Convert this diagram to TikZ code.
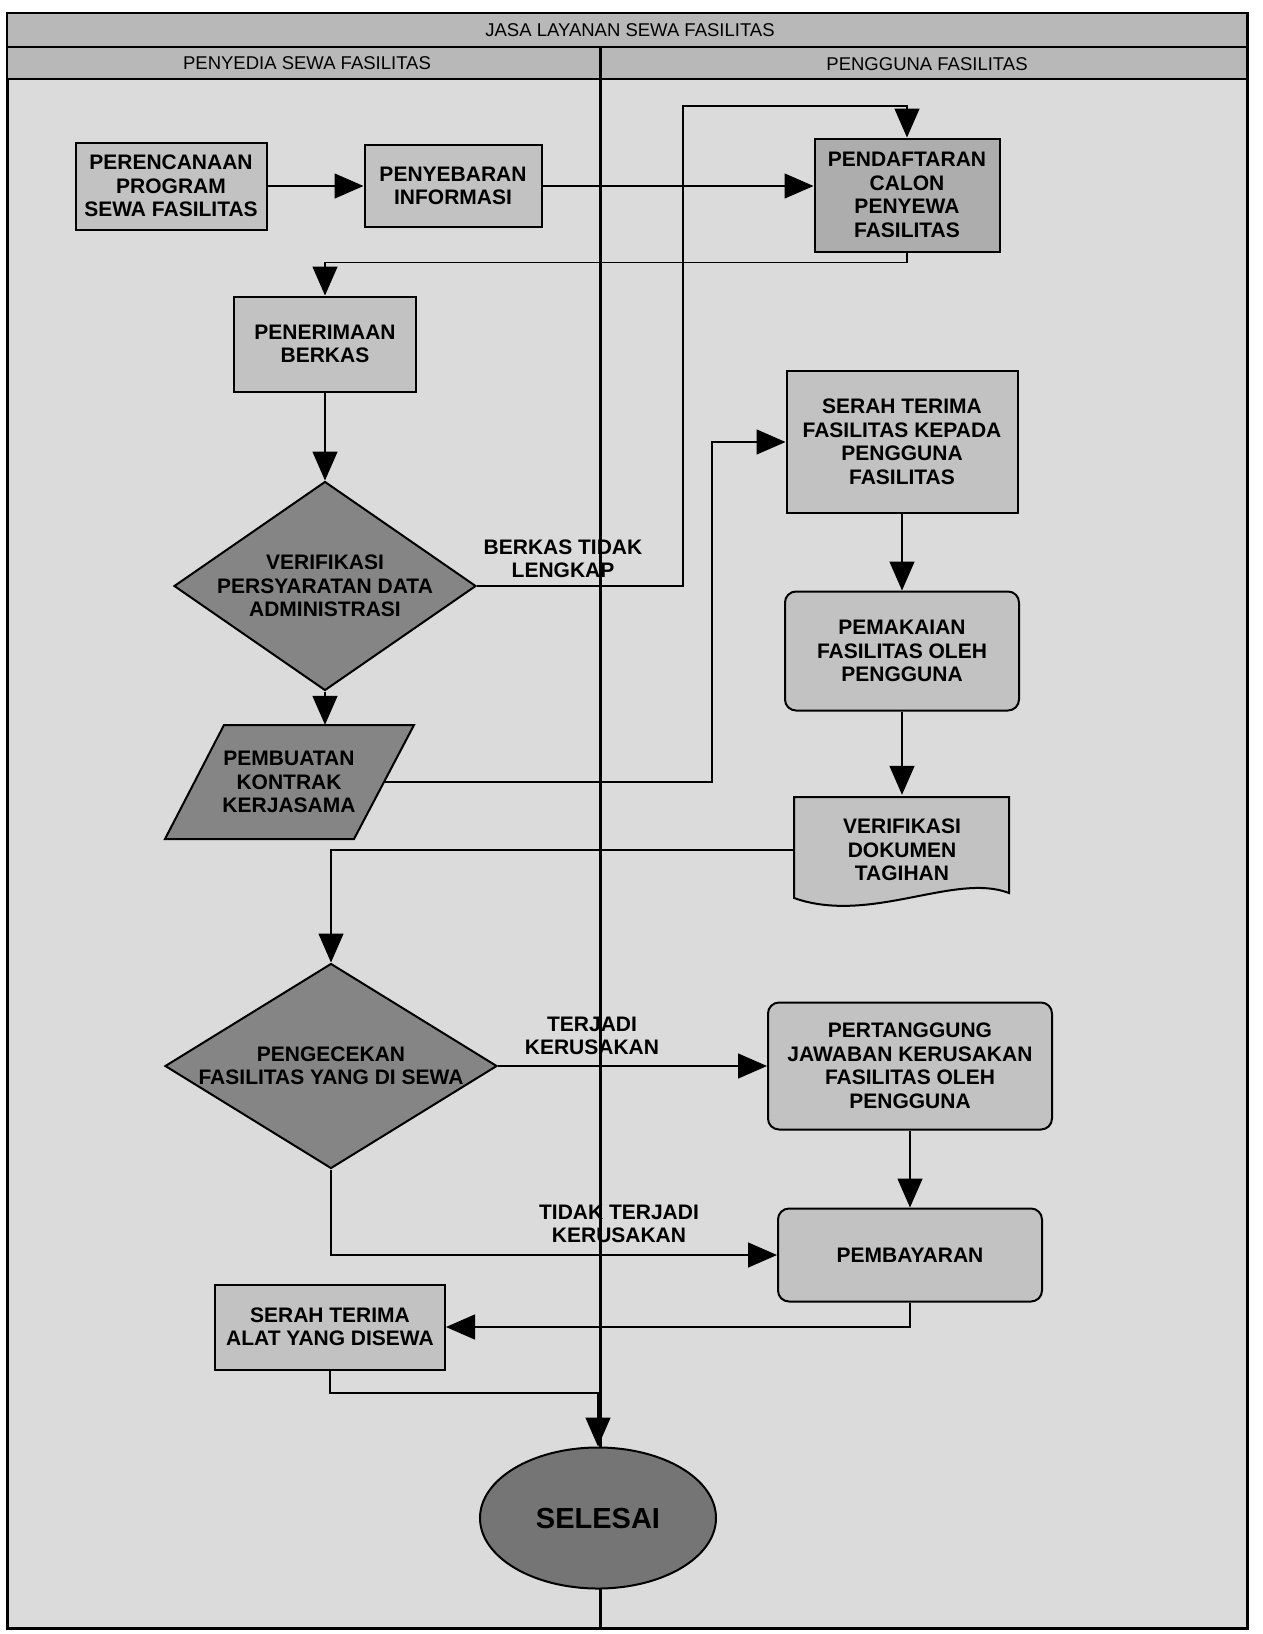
\documentclass[tikz,border=0pt]{standalone}
\usepackage{fontspec}
\setmainfont{Liberation Sans}
\usetikzlibrary{shapes.geometric,arrows.meta,calc}
\definecolor{bgc}{gray}{0.86}
\definecolor{hdrc}{gray}{0.72}
\definecolor{boxc}{gray}{0.76}
\definecolor{boxd}{gray}{0.68}
\definecolor{darkc}{gray}{0.52}
\definecolor{ellc}{gray}{0.46}
\newcommand\boxfont{\fontsize{21}{23.5}\selectfont\bfseries}
\newcommand\hdrfont{\fontsize{18.5}{21}\selectfont}
\tikzset{
  frame/.style={draw, line width=3pt, fill=bgc},
  hdrbar/.style={draw, line width=2.5pt, fill=hdrc},
  hdrtext/.style={font=\hdrfont, inner sep=0pt},
  divider/.style={line width=3pt},
  box/.style={draw, line width=2pt, fill=boxc, font=\boxfont, align=center, inner sep=2pt},
  rbox/.style={box, rounded corners=11pt},
  dia/.style={draw, line width=2pt, fill=darkc, diamond, inner sep=0pt},
  shapeline/.style={draw, line width=2pt},
  inlbl/.style={font=\boxfont, align=center},
  lbl/.style={font=\boxfont, align=center, inner sep=0pt},
  arr/.style={line width=1.4pt, -{Triangle[length=29pt,width=25pt]}},
}
\begin{document}
\begin{tikzpicture}[x=1pt,y=-1pt]
\useasboundingbox (0,0) rectangle (1262,1634);
\fill[white] (0,0) rectangle (1262,1634);
% frame and lanes
\draw[frame] (7,13) rectangle (1247,1628);
\draw[hdrbar] (7,13) rectangle (1247,47);
\draw[hdrbar] (7,47) rectangle (1247,79);
\node[hdrtext] (title) at (630,30) {JASA LAYANAN SEWA FASILITAS};
\node[hdrtext] (lane1) at (307,63) {PENYEDIA SEWA FASILITAS};
\node[hdrtext] (lane2) at (927,64) {PENGGUNA FASILITAS};
\draw[divider] (600,47) -- (600,1628);

% nodes
\node[box, minimum width=191, minimum height=87] (n1) at (171,186) {PERENCANAAN\\PROGRAM\\SEWA FASILITAS};
\node[box, minimum width=177, minimum height=82] (n2) at (453,186) {PENYEBARAN\\INFORMASI};
\node[box, fill=boxd, minimum width=185, minimum height=113] (n3) at (907,195) {PENDAFTARAN\\CALON\\PENYEWA\\FASILITAS};
\node[box, minimum width=182, minimum height=95] (n4) at (325,344) {PENERIMAAN\\BERKAS};
\node[dia, minimum width=302, minimum height=209,
  label={[inlbl]center:VERIFIKASI\\PERSYARATAN DATA\\ADMINISTRASI}] (d1) at (325,586) {};
\filldraw[shapeline, fill=darkc] (224,725) -- (414,725) -- (354,839) -- (165,839) -- cycle;
\node[lbl, minimum width=190, minimum height=114] (p1) at (289,782) {PEMBUATAN\\KONTRAK\\KERJASAMA};
\node[box, minimum width=231, minimum height=142] (n5) at (902,442) {SERAH TERIMA\\FASILITAS KEPADA\\PENGGUNA\\FASILITAS};
\node[rbox, minimum width=234, minimum height=119] (n6) at (902,651) {PEMAKAIAN\\FASILITAS OLEH\\PENGGUNA};
\filldraw[shapeline, fill=boxc] (794,797) -- (1009,797) -- (1009,893)
  .. controls (955,872) and (870,925) .. (794,898) -- cycle;
\node[lbl, minimum width=215, minimum height=110] (n7) at (902,850) {VERIFIKASI\\DOKUMEN\\TAGIHAN};
\node[dia, minimum width=332, minimum height=205,
  label={[inlbl]center:PENGECEKAN\\FASILITAS YANG DI SEWA}] (d2) at (331,1066) {};
\node[rbox, minimum width=284, minimum height=127] (n8) at (910,1066) {PERTANGGUNG\\JAWABAN KERUSAKAN\\FASILITAS OLEH\\PENGGUNA};
\node[rbox, minimum width=264, minimum height=93] (n9) at (910,1255) {PEMBAYARAN};
\node[box, minimum width=230, minimum height=85] (n10) at (330,1327) {SERAH TERIMA\\ALAT YANG DISEWA};
\node[draw, line width=2pt, fill=ellc, ellipse, minimum width=236, minimum height=141,
  font=\fontsize{29}{32}\selectfont\bfseries] (end) at (598,1518) {SELESAI};

% labels
\node[lbl] (l1) at (563,559) {BERKAS TIDAK\\LENGKAP};
\node[lbl] (l2) at (592,1036) {TERJADI\\KERUSAKAN};
\node[lbl] (l3) at (619,1224) {TIDAK TERJADI\\KERUSAKAN};

% helper coordinates
\coordinate (k1) at (683,106);
\coordinate (k2) at (712,442);
\coordinate (k3) at (598,1393);

% connectors
\draw[arr] (n1.east) -- (n1.east -| n2.west);
\draw[arr] (n2.east) -- (n2.east -| n3.west);
\draw[arr] (n3.south) -- ++(0,10) -| (n4.north);
\draw[arr] (n4.south) -- (d1.north);
\draw[arr] (d1.east) -| (k1) -| (n3.north);
\draw[arr] (d1.south) -- (d1.south |- p1.north);
\draw[arr] (p1.east) -| (k2) -- (n5.west);
\draw[arr] (n5.south) -- (n6.north);
\draw[arr] (n6.south) -- (n7.north);
\draw[arr] (n7.west) -| (d2.north);
\draw[arr] (d2.east) -- (n8.west);
\draw[arr] (d2.south) |- (n9.west);
\draw[arr] (n8.south) -- (n9.north);
\draw[arr] (n9.south) |- (n10.east);
\draw[arr] (n10.south) |- (k3) -- (end.north);
\end{tikzpicture}
\end{document}
